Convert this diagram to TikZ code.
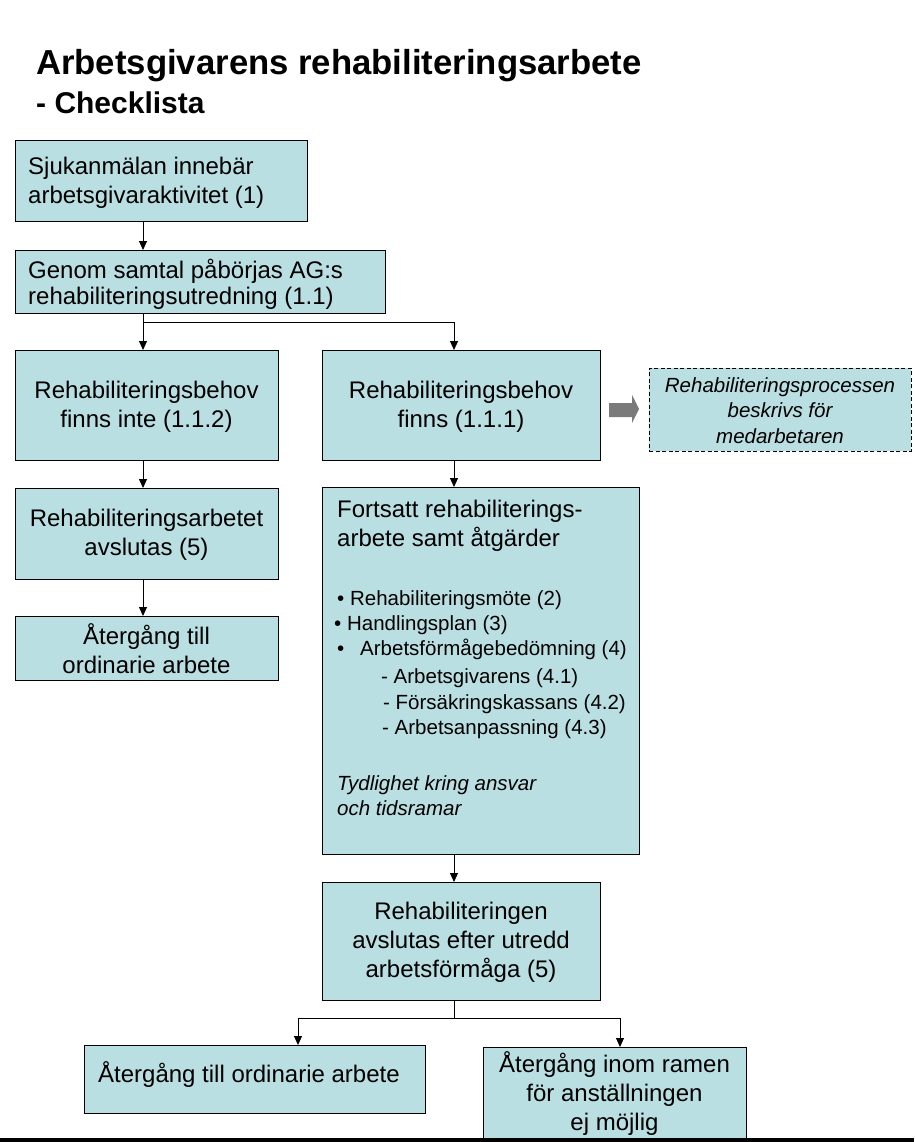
\documentclass[tikz,border=0pt]{standalone}
\usepackage{fontspec}
\setmainfont{Liberation Sans}
\usetikzlibrary{arrows.meta}
\definecolor{boxfill}{RGB}{186,223,226}
\definecolor{arrowgray}{RGB}{122,122,122}
\tikzset{
  box/.style={draw=black, line width=0.8pt, fill=boxfill, anchor=north west, inner sep=0pt},
  dbox/.style={box, dash pattern=on 4pt off 2.5pt},
  lbl/.style={inner sep=0pt, align=center, font=\fontsize{24}{29}\selectfont},
  lbls/.style={inner sep=0pt, align=center, font=\fontsize{20.5}{25.3}\selectfont\itshape},
  ltxt/.style={inner sep=0pt, anchor=base west, font=\fontsize{24}{29}\selectfont},
  stxt/.style={inner sep=0pt, anchor=base west, font=\fontsize{20.5}{25}\selectfont},
  conn/.style={line width=0.9pt, -{Triangle[length=9pt,width=8pt]}},
  plain/.style={line width=0.9pt},
}
\begin{document}
\begin{tikzpicture}[x=1pt,y=-1pt]
\useasboundingbox (0,0) rectangle (914,1142);
\fill[white] (0,0) rectangle (914,1142);

% title
\node[inner sep=0pt, anchor=base west, font=\fontsize{34.7}{40}\selectfont\bfseries] (title) at (36,75) {Arbetsgivarens rehabiliteringsarbete};
\node[inner sep=0pt, anchor=base west, font=\fontsize{30}{36}\selectfont\bfseries] (subtitle) at (36,114) {- Checklista};

% boxes
\node[box, minimum width=292pt, minimum height=81pt] (b1) at (15,140) {};
\node[ltxt] (t1a) at (28,174.5) {Sjukanmälan innebär};
\node[ltxt] (t1b) at (28,203.5) {arbetsgivaraktivitet (1)};

\node[box, minimum width=370pt, minimum height=63pt] (b2) at (15,250) {};
\node[ltxt] (t2a) at (28,278.5) {Genom samtal påbörjas AG:s};
\node[ltxt] (t2b) at (28,304.5) {rehabiliteringsutredning (1.1)};

\node[box, minimum width=263pt, minimum height=110pt] (b3) at (15,350) {};
\node[lbl] (t3) at (146.5,406.5) {Rehabiliteringsbehov\\finns inte (1.1.2)};

\node[box, minimum width=278pt, minimum height=110pt] (b4) at (322,350) {};
\node[lbl] (t4) at (461,406.5) {Rehabiliteringsbehov\\finns (1.1.1)};

\node[dbox, minimum width=262pt, minimum height=83pt] (bd) at (649,368) {};
\node[lbls] (td) at (780,410.5) {Rehabiliteringsprocessen\\beskrivs för\\medarbetaren};

\fill[arrowgray] (609,403) -- (632,403) -- (632,395) -- (639,409) -- (632,423) -- (632,417) -- (609,417) -- cycle;

\node[box, minimum width=263pt, minimum height=91pt] (b5) at (15,488) {};
\node[lbl] (t5) at (146.5,534.5) {Rehabiliteringsarbetet\\avslutas (5)};

\node[box, minimum width=263pt, minimum height=64pt] (b6) at (15,616) {};
\node[lbl] (t6) at (146.5,649) {Återgång till\\ordinarie arbete};

\node[box, minimum width=317pt, minimum height=367pt] (b7) at (322,487) {};
\node[ltxt] (t7a) at (337,517.5) {Fortsatt rehabiliterings-};
\node[ltxt] (t7b) at (337,546.5) {arbete samt åtgärder};
\node[stxt] (t7c) at (337,605.5) {• Rehabiliteringsmöte (2)};
\node[stxt] (t7d) at (334,630.5) {• Handlingsplan (3)};
\node[stxt] (t7e) at (337,655.5) {•};
\node[stxt] (t7f) at (360,655.5) {Arbetsförmågebedömning (4)};
\node[stxt] (t7g) at (381,683.5) {- Arbetsgivarens (4.1)};
\node[stxt] (t7h) at (383,709.5) {- Försäkringskassans (4.2)};
\node[stxt] (t7i) at (382,734.5) {- Arbetsanpassning (4.3)};
\node[stxt, font=\fontsize{20.5}{25}\selectfont\itshape] (t7j) at (337,790.5) {Tydlighet kring ansvar};
\node[stxt, font=\fontsize{20.5}{25}\selectfont\itshape] (t7k) at (337,815.5) {och tidsramar};

\node[box, minimum width=278pt, minimum height=118pt] (b8) at (322,882) {};
\node[lbl] (t8) at (461,942) {Rehabiliteringen\\avslutas efter utredd\\arbetsförmåga (5)};

\node[box, minimum width=341pt, minimum height=68pt] (b9) at (84,1045) {};
\node[ltxt] (t9) at (98,1082.5) {Återgång till ordinarie arbete};

\node[box, minimum width=263pt, minimum height=93pt] (b10) at (483,1047) {};
\node[lbl] (t10) at (614.5,1094) {Återgång inom ramen\\för anställningen\\ej möjlig};

% bottom bar
\fill[black] (0,1137.5) rectangle (914,1142);

% connector coordinates
\coordinate (cl) at (143,0);
\coordinate (j1) at (143,322);
\coordinate (j1r) at (454,322);
\coordinate (cr) at (454,0);
\coordinate (j2) at (454,1018);
\coordinate (j2l) at (298,1018);
\coordinate (j2r) at (620,1018);

\draw[conn] (b1.south -| cl) -- (b2.north -| cl);
\draw[conn] (b2.south -| cl) -- (b3.north -| cl);
\draw[conn] (j1) -- (j1r) -- (b4.north -| j1r);
\draw[conn] (b3.south -| cl) -- (b5.north -| cl);
\draw[conn] (b5.south -| cl) -- (b6.north -| cl);
\draw[conn] (b4.south -| cr) -- (b7.north -| cr);
\draw[conn] (b7.south -| cr) -- (b8.north -| cr);
\draw[plain] (b8.south -| cr) -- (j2);
\draw[conn] (j2l) -- (b9.north -| j2l);
\draw[conn] (j2l) -- (j2r) -- (b10.north -| j2r);
\end{tikzpicture}
\end{document}
